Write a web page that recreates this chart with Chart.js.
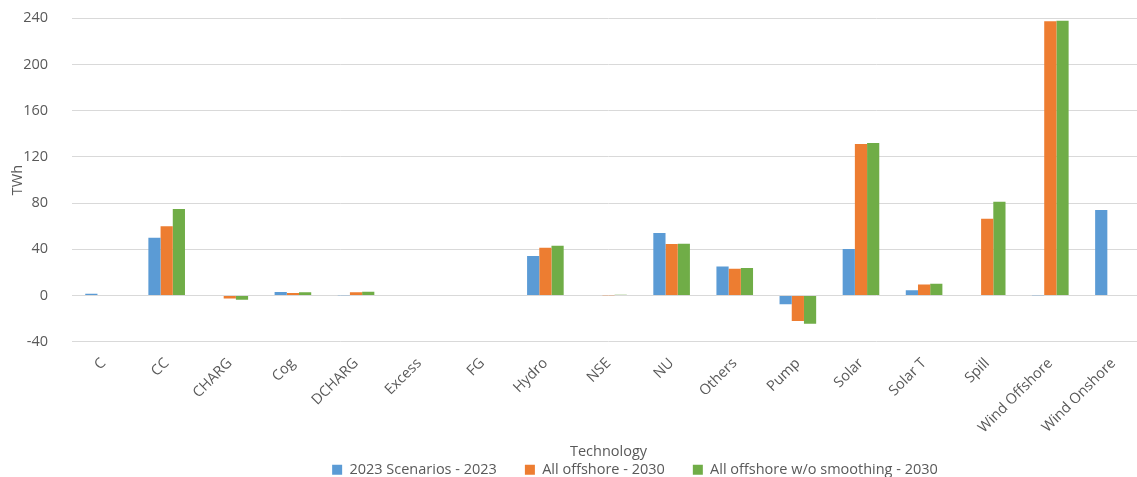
<!DOCTYPE html>
<html>
<head>
<meta charset="utf-8">
<script src="https://cdn.jsdelivr.net/npm/chart.js@4.4.1/dist/chart.umd.min.js"></script>
<style>
  html, body { margin: 0; padding: 0; background: #ffffff; overflow: hidden; }
  #wrap { position: relative; width: 1261px; height: 477px; }
</style>
</head>
<body>
<div id="wrap"><canvas id="chart"></canvas></div>
<script>
// Annual energy by technology (TWh)
const categories = ['C', 'CC', 'CHARG', 'Cog', 'DCHARG', 'Excess', 'FG', 'Hydro', 'NSE', 'NU',
  'Others', 'Pump', 'Solar', 'Solar T', 'Spill', 'Wind Offshore', 'Wind Onshore'];

const seriesNames = ['2023 Scenarios - 2023', 'All offshore - 2030', 'All offshore w/o smoothing - 2030'];

const scenarios2023 = [1.5, 50, 0, 3, 0.3, 0, 0, 34.2, 0, 54.2, 25.2, -7.5, 40.4, 4.7, 0.5, 0.3, 74.1];
const allOffshore2030 = [0, 60, -2.5, 2.3, 2.8, 0, 0, 41.4, 0.3, 44.6, 23.2, -22, 131.3, 9.5, 66.6, 237.4, 0];
const allOffshoreNoSmoothing2030 = [0, 75, -3.5, 2.8, 3.3, 0, 0, 43.2, 0.8, 44.9, 23.8, -24.3, 132, 10.2, 81.3, 237.9, 0];

const yTicks = { min: -40, max: 240, step: 40 };
const xTitle = 'Technology';
const yTitle = 'TWh';

const colors = ['#5B9BD5', '#ED7D31', '#70AD47'];
const textColor = '#595959';
const fontFamily = '"Open Sans", "Noto Sans", sans-serif';
const fontSize = 14.5;

// Category axis caption, centred under the plot area
const axisCaption = {
  id: 'axisCaption',
  afterDraw(chart) {
    const { ctx, chartArea } = chart;
    ctx.save();
    ctx.font = fontSize + 'px ' + fontFamily;
    ctx.fillStyle = textColor;
    ctx.textAlign = 'center';
    ctx.textBaseline = 'middle';
    ctx.fillText(xTitle, (chartArea.left + chartArea.right) / 2, chartArea.bottom + 110);
    ctx.restore();
  }
};

const datasets = [scenarios2023, allOffshore2030, allOffshoreNoSmoothing2030].map((vals, i) => ({
  label: seriesNames[i],
  data: vals,
  backgroundColor: colors[i],
  borderWidth: 0,
  categoryPercentage: 0.58,
  barPercentage: 1.0
}));

new Chart(document.getElementById('chart'), {
  type: 'bar',
  data: { labels: categories, datasets },
  plugins: [axisCaption],
  options: {
    responsive: true,
    maintainAspectRatio: false,
    animation: false,
    layout: { padding: { left: 9, right: 0, top: 0, bottom: -10 } },
    plugins: {
      legend: {
        position: 'bottom',
        labels: {
          color: textColor,
          font: { family: fontFamily, size: fontSize },
          boxWidth: 10,
          boxHeight: 10,
          padding: 28
        }
      },
      tooltip: { enabled: false }
    },
    scales: {
      x: {
        grid: { display: false, drawTicks: false },
        border: { display: false },
        ticks: {
          color: textColor,
          font: { family: fontFamily, size: fontSize },
          minRotation: 45,
          maxRotation: 45,
          autoSkip: false,
          padding: 13
        },
        afterFit(scale) { scale.height = 92.7; }
      },
      y: {
        min: yTicks.min,
        max: yTicks.max,
        grid: { color: '#d9d9d9', lineWidth: 1, drawTicks: false },
        border: { display: false },
        ticks: {
          stepSize: yTicks.step,
          color: textColor,
          font: { family: fontFamily, size: fontSize },
          padding: 24
        },
        title: {
          display: true,
          text: yTitle,
          color: textColor,
          font: { family: fontFamily, size: fontSize },
          padding: { top: 0, bottom: 4 }
        },
        afterFit(scale) {
          scale.width = 63;
          scale.paddingTop = 18.3;
          scale.paddingBottom = 0;
        }
      },
      // empty right-hand margin beside the plot
      yMargin: {
        position: 'right',
        display: true,
        grid: { display: false, drawTicks: false },
        border: { display: false },
        ticks: { display: false },
        afterFit(scale) { scale.width = 116; }
      }
    }
  }
});
</script>
</body>
</html>
